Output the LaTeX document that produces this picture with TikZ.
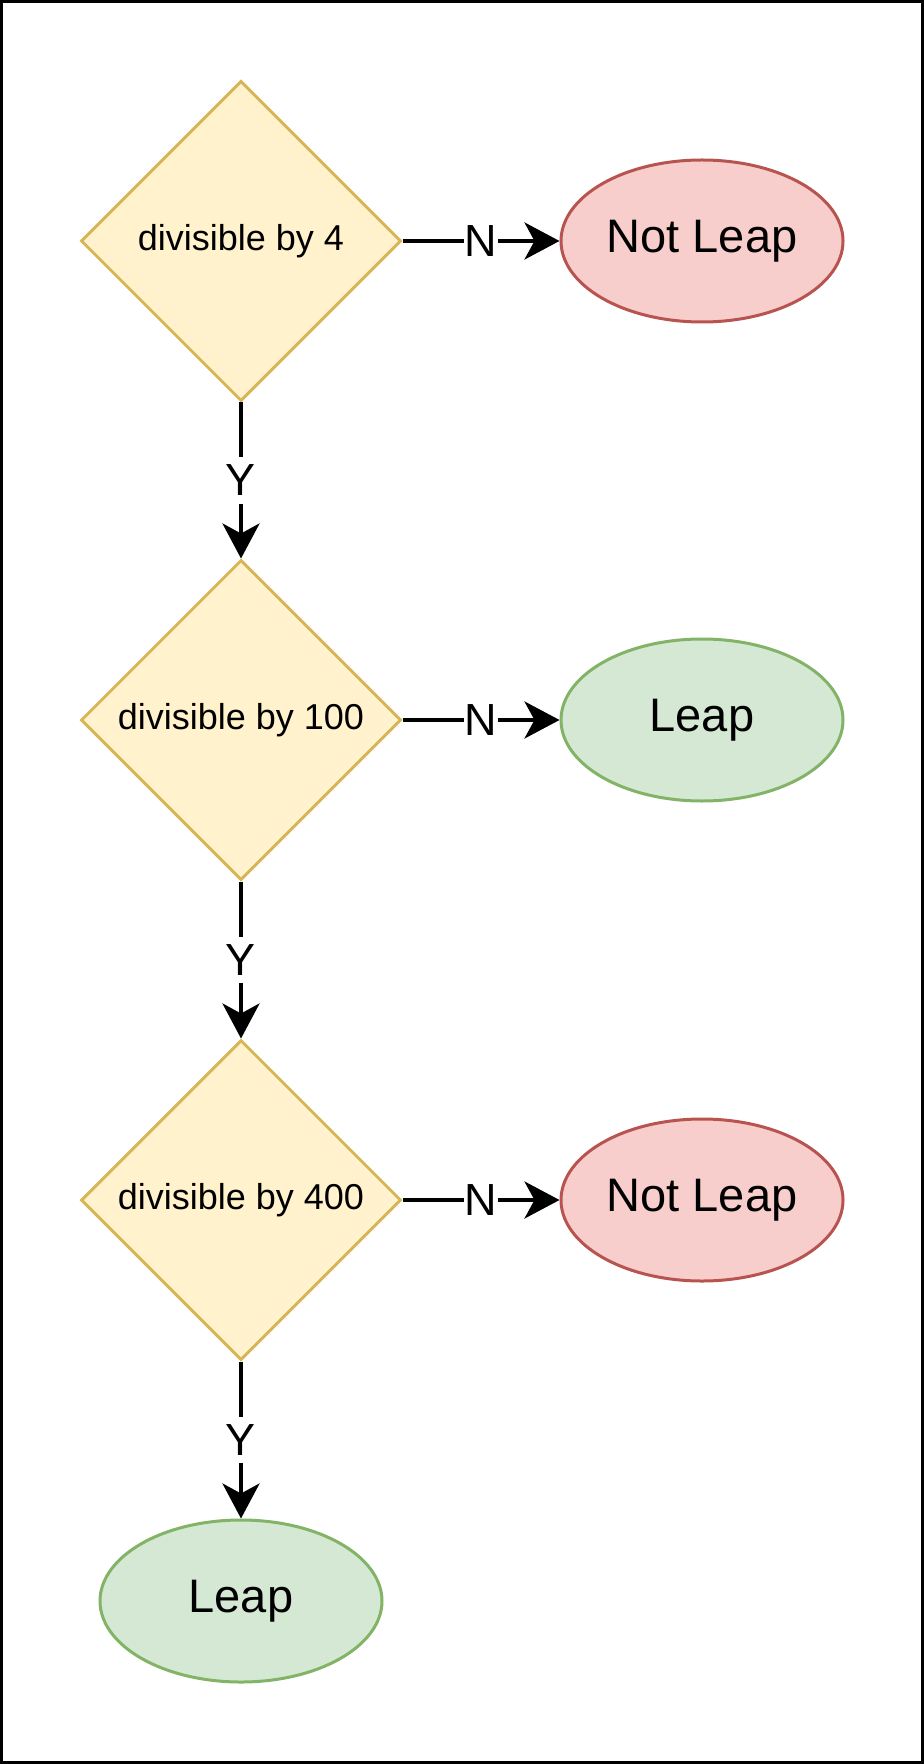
\documentclass[tikz,border=0pt]{standalone}
\usepackage{fontspec}
\setmainfont{Liberation Sans}
\usetikzlibrary{shapes.geometric,arrows.meta}

\definecolor{yfill}{HTML}{FFF2CC}
\definecolor{yline}{HTML}{D6B656}
\definecolor{rfill}{HTML}{F8CECC}
\definecolor{rline}{HTML}{B85450}
\definecolor{gfill}{HTML}{D5E8D4}
\definecolor{gline}{HTML}{82B366}

\begin{document}
\begin{tikzpicture}[x=0.5pt,y=-0.5pt,
    decision/.style={diamond,draw=yline,fill=yfill,line width=1.5pt,
        minimum width=160pt,minimum height=160pt,inner sep=0pt,
        font=\fontsize{18}{20}\selectfont},
    result/.style={ellipse,line width=1.5pt,minimum width=141pt,
        minimum height=81pt,inner sep=0pt,font=\fontsize{23.5}{26}\selectfont},
    leap/.style={result,draw=gline,fill=gfill},
    notleap/.style={result,draw=rline,fill=rfill},
    flow/.style={line width=2pt,-{Stealth[length=17.5pt,width=18.5pt,inset=5pt]}},
    yn/.style={fill=white,inner xsep=0.5pt,inner ysep=4pt,
        font=\fontsize{22.5}{24}\selectfont}]

    \useasboundingbox (0,0) rectangle (924,1764);
    \draw[line width=1.5pt] (1.5,1.5) rectangle (922.5,1762.5);

    % the three tests
    \node[decision] (by4)   at (241,241)  {divisible by 4};
    \node[decision] (by100) at (241,720)  {divisible by 100};
    \node[decision] (by400) at (241,1200) {divisible by 400};

    % outcomes
    \node[notleap] (no1)  at (702,241)  {Not Leap};
    \node[leap]    (yes1) at (702,720)  {Leap};
    \node[notleap] (no2)  at (702,1200) {Not Leap};
    \node[leap]    (yes2) at (241,1601) {Leap};

    \draw[flow] (by4.east) -- node[yn] {N} (no1.west);
    \draw[flow] (by100.east) -- node[yn] {N} (yes1.west);
    \draw[flow] (by400.east) -- node[yn] {N} (no2.west);

    \draw[flow] (by4.south) -- node[yn] {Y} (by100.north);
    \draw[flow] (by100.south) -- node[yn] {Y} (by400.north);
    \draw[flow] (by400.south) -- node[yn] {Y} (yes2.north);
\end{tikzpicture}
\end{document}
